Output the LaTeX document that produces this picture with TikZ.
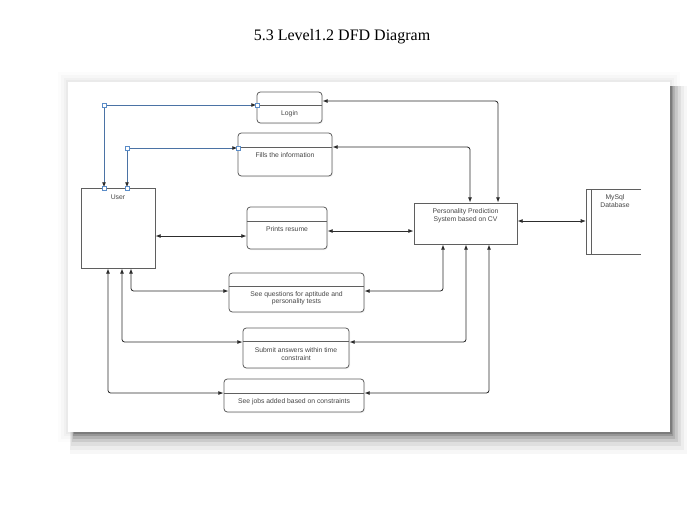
\documentclass[tikz,border=0pt]{standalone}
\usepackage{fontspec}
\setmainfont{Liberation Serif}
\newfontfamily\dsans{Liberation Sans}
\usetikzlibrary{arrows.meta,calc,shadows}
\definecolor{linec}{RGB}{45,45,45}
\definecolor{boxc}{RGB}{95,95,95}
\definecolor{txtc}{RGB}{70,70,70}
\definecolor{bluec}{RGB}{75,115,165}
\definecolor{handc}{RGB}{90,140,200}
\tikzset{
  proc/.style={draw=boxc, line width=0.6pt, rounded corners=2.5pt, fill=white,
    drop shadow={opacity=0.12, shadow xshift=0.8pt, shadow yshift=-0.8pt}, inner sep=0pt},
  plainbox/.style={draw=boxc, line width=0.6pt, fill=white, inner sep=0pt},
  lbl/.style={font=\dsans\fontsize{5.1pt}{5.6pt}\selectfont, text=txtc, inner sep=0pt, align=center},
  conn/.style={draw=linec, line width=0.6pt, rounded corners=2pt, {Latex[length=4pt,width=3pt]}-{Latex[length=4pt,width=3pt]}},
  bconn/.style={draw=bluec, line width=0.7pt, {Latex[length=4pt,width=3pt,color=linec]}-{Latex[length=4pt,width=3pt,color=linec]}},
  handle/.style={draw=handc, fill=white, line width=0.4pt, minimum size=3pt, inner sep=0pt},
}
\begin{document}
\begin{tikzpicture}[x=0.75pt,y=-0.75pt]
\useasboundingbox (0,0) rectangle (691,512);
% title
\node[font=\fontsize{12pt}{14pt}\selectfont, inner sep=0pt] (title) at (342,37) {5.3 Level1.2 DFD Diagram};
% frame shadow: faint halo on top/left, strong on right/bottom
\foreach \d/\o in {10/0.012,7/0.018,4/0.022,2/0.028}
  \fill[black,opacity=\o] (68-\d,82-\d) rectangle (670+\d,432+\d);
\foreach \d/\o in {22/0.03,18/0.04,14/0.06,10/0.08,7/0.1,4/0.13,2/0.16}
  \fill[black,opacity=\o] (74-\d*0.2,86) rectangle (670+\d*0.75,432+\d);
\fill[white] (68,82) rectangle (670,432);

% nodes
\node[proc, minimum width=65*0.75pt, minimum height=31*0.75pt] (login) at (289.5,107.5) {};
\draw[boxc, line width=0.6pt] (login.west |- 0,105) -- (login.east |- 0,105);
\node[lbl] (logint) at (289.5,113.5) {Login};

\node[proc, minimum width=94*0.75pt, minimum height=43*0.75pt] (fills) at (285,154.5) {};
\draw[boxc, line width=0.6pt] (fills.west |- 0,147) -- (fills.east |- 0,147);
\node[lbl] (fillst) at (285,155) {Fills the information};

\node[plainbox, minimum width=74*0.75pt, minimum height=80*0.75pt] (user) at (118,228) {};
\node[lbl] (usert) at (118,197) {User};

\node[proc, minimum width=80*0.75pt, minimum height=42*0.75pt] (prints) at (287,228) {};
\draw[boxc, line width=0.6pt] (prints.west |- 0,221) -- (prints.east |- 0,221);
\node[lbl] (printst) at (287,229) {Prints resume};

\node[plainbox, minimum width=103*0.75pt, minimum height=41*0.75pt] (pps) at (465.5,223.5) {};
\node[lbl] (ppst) at (465.5,215.5) {Personality Prediction\\System based on CV};

% database (open on the right)
\fill[white] (586,189) rectangle (641,254);
\draw[boxc, line width=0.6pt] (641,189) -- (586,189) -- (586,254) -- (641,254);
\draw[boxc, line width=0.6pt] (591,189) -- (591,254);
\coordinate (db) at (586,221);
\node[lbl] (dbt) at (615,201) {MySql\\Database};

\node[proc, minimum width=135*0.75pt, minimum height=39*0.75pt] (quest) at (296.5,292.5) {};
\draw[boxc, line width=0.6pt] (quest.west |- 0,286) -- (quest.east |- 0,286);
\node[lbl] (questt) at (296.5,298) {See questions for aptitude and\\personality tests};

\node[proc, minimum width=106*0.75pt, minimum height=40*0.75pt] (submit) at (296,348) {};
\draw[boxc, line width=0.6pt] (submit.west |- 0,341) -- (submit.east |- 0,341);
\node[lbl] (submitt) at (296,354) {Submit answers within time\\constraint};

\node[proc, minimum width=140*0.75pt, minimum height=33*0.75pt] (jobs) at (294,395.5) {};
\draw[boxc, line width=0.6pt] (jobs.west |- 0,393) -- (jobs.east |- 0,393);
\node[lbl] (jobst) at (294,402) {See jobs added based on constraints};

% blue connectors (user -> login / fills)
\draw[bconn] (user.north -| 104,0) -- (104,105) -- (login.west |- 0,105);
\draw[bconn] (user.north -| 127,0) -- (127,148) -- (fills.west |- 0,148);
\foreach \p in {(104,105),(104,188),(257,105),(127,148),(127,188),(238,148)}
  \node[handle] at \p {};

% pps top connectors
\draw[conn] (login.east |- 0,101) -- (498,101) -- (pps.north -| 498,0);
\draw[conn] (fills.east |- 0,147) -- (470,147) -- (pps.north -| 470,0);
% middle
\draw[conn] (user.east |- 0,236) -- (prints.west |- 0,236);
\draw[conn] (prints.east |- 0,231) -- (pps.west |- 0,231);
\draw[conn] (pps.east |- 0,221) -- (db);
% left bottom
\draw[conn] (user.south -| 131,0) -- (131,291) -- (quest.west |- 0,291);
\draw[conn] (user.south -| 122,0) -- (122,342) -- (submit.west |- 0,342);
\draw[conn] (user.south -| 108,0) -- (108,393) -- (jobs.west |- 0,393);
% right bottom
\draw[conn] (quest.east |- 0,291) -- (443,291) -- (pps.south -| 443,0);
\draw[conn] (submit.east |- 0,342) -- (466,342) -- (pps.south -| 466,0);
\draw[conn] (jobs.east |- 0,393) -- (489,393) -- (pps.south -| 489,0);
\end{tikzpicture}
\end{document}
